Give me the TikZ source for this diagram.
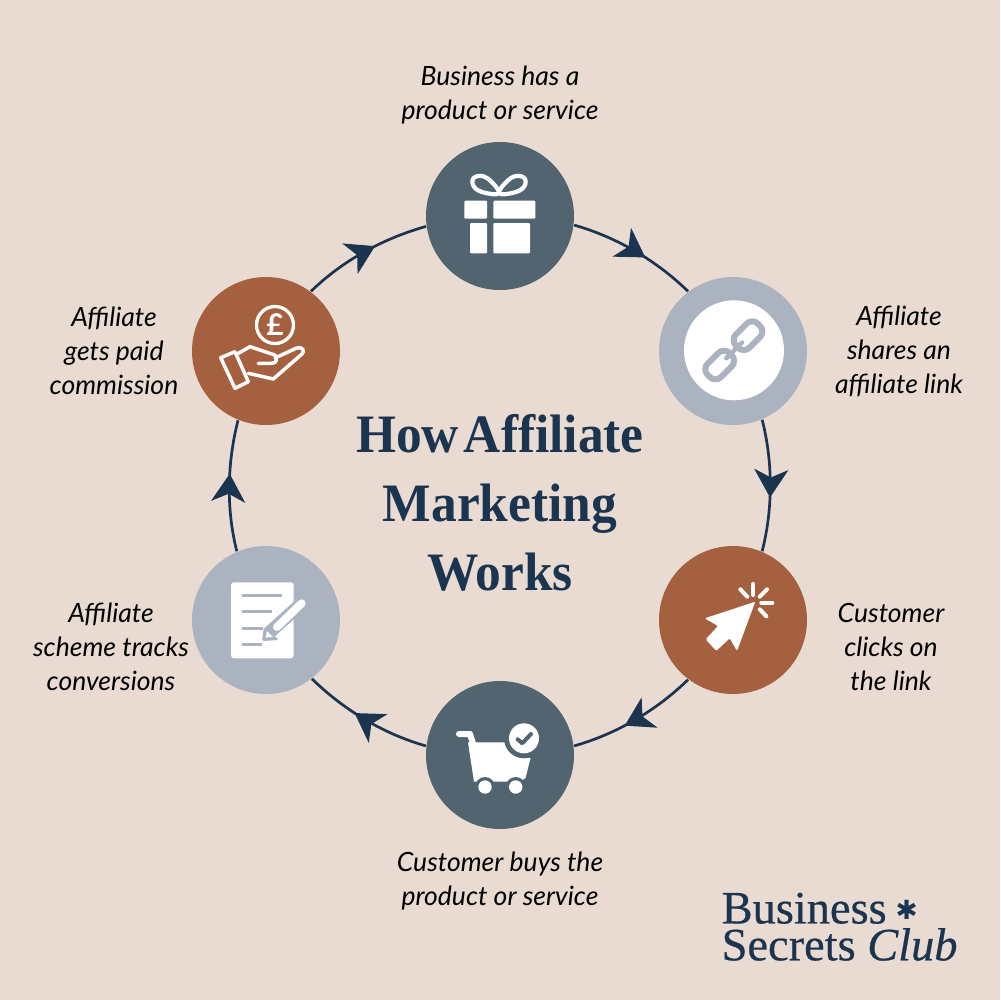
\documentclass[tikz,border=0pt]{standalone}
\usepackage{fontspec}
\setmainfont{Lato}
\newfontfamily\titlefont[FakeStretch=0.95]{Liberation Serif}
\newfontfamily\logofont[FakeBold=0.5]{Liberation Serif}
\newfontfamily\starfont{DejaVu Sans}
\usepackage{xcolor}
\usetikzlibrary{arrows.meta, decorations.markings}

\definecolor{pagebg}{HTML}{E9DBD2}
\definecolor{slate}{HTML}{51646F}
\definecolor{rust}{HTML}{A5603F}
\definecolor{steel}{HTML}{ABB3C0}
\definecolor{navy}{HTML}{1B3550}

\tikzset{
    stepdot/.style={circle, minimum size=1.48cm, inner sep=0pt},
    steptext/.style={align=center, text=black, font=\fontsize{7.55}{9.67}\selectfont\itshape},
    ringline/.style={navy, line width=0.027cm, postaction={decorate},
        decoration={markings, mark=at position 0.59 with {\arrow{Stealth[length=0.28cm, width=0.34cm, inset=0.08cm]}}}},
    titletext/.style={text=navy, align=center, font=\titlefont\bfseries\fontsize{15.4}{19.6}\selectfont},
    logotext/.style={text=navy, align=left, font=\logofont\fontsize{13.2}{10.5}\selectfont},
    iconline/.style={white, line width=0.035cm, line cap=round, line join=round},
}

\begin{document}
\begin{tikzpicture}[x=0.1mm, y=-0.1mm]
        \fill[pagebg] (0,0) rectangle (1000,1000);

        \node[stepdot, fill=slate] (gift) at (500,216) {};
        \node[stepdot, fill=steel] (chain) at (733,351) {};
        \node[stepdot, fill=rust] (cursor) at (733,620) {};
        \node[stepdot, fill=slate] (cart) at (500,755) {};
        \node[stepdot, fill=steel] (notes) at (266,620) {};
        \node[stepdot, fill=rust] (hand) at (266,351) {};

        \foreach \a/\b/\r in {gift/chain/90, chain/cursor/30, cursor/cart/-30, cart/notes/-90, notes/hand/-150, hand/gift/-210} {
            \pgfmathsetmacro{\sa}{\r-97.9}
            \pgfmathsetmacro{\ea}{\r+37.9}
            \pgfmathsetmacro{\oa}{\r-105.8}
            \pgfmathsetmacro{\ia}{\r+45.8}
            \draw[ringline] (\a.\sa) to[out=\oa, in=\ia, looseness=0.86] (\b.\ea);
        }

        % gift
        \fill[white, rounded corners=0.01cm] (464.3,200.7) rectangle (487,218.7);
        \fill[white, rounded corners=0.01cm] (493.3,200.7) rectangle (535.3,218.7);
        \fill[white, rounded corners=0.01cm] (470,223) rectangle (487,253.3);
        \fill[white, rounded corners=0.01cm] (493.3,223) rectangle (530,253.3);
        \draw[iconline, line width=0.042cm] plot[smooth cycle, tension=0.7] coordinates {(499,193) (487,178) (475,177) (473,185) (482,192)};
        \draw[iconline, line width=0.042cm] plot[smooth cycle, tension=0.7] coordinates {(499,193) (511,178) (523,177) (525,185) (516,192)};

        % chain
        \fill[white] (734,350.3) circle (50);
        \begin{scope}[shift={(748,335.7)}, rotate=45]
            \draw[steel, line width=0.06cm, rounded corners=0.08cm] (-15.5,-9.5) rectangle (15.5,9.5);
        \end{scope}
        \begin{scope}[shift={(719.7,365)}, rotate=45]
            \draw[steel, line width=0.06cm, rounded corners=0.08cm] (-15.5,-9.5) rectangle (15.5,9.5);
        \end{scope}
        \draw[steel, line width=0.045cm, line cap=round] (726.3,358.3) -- (742,342.5);

        % cursor
        \fill[white, rounded corners=0.012cm] (755.3,601.7) -- (704.7,618.3) -- (718,626) -- (705.7,639.3)
            -- (716.3,651) -- (729.7,638.3) -- (737,651) -- cycle;
        \foreach \ax/\ay/\bx/\by in {753.3/584/753.3/595, 740.3/589.3/747.3/596.7, 767/589.3/759.7/596.7, 761.3/602.7/772.3/602.7, 759.7/609.3/766.3/616.3}
            \draw[iconline, line width=0.04cm] (\ax,\ay) -- (\bx,\by);

        % cart
        \draw[iconline, line width=0.06cm] (459,734) -- (470,734) -- (474.5,748);
        \fill[white] (468,742.3) -- (505,742.3) -- (530.5,758.3) -- (525.5,778) -- (520,781.7) -- (474,781.7) -- cycle;
        \fill[slate] (524,738.3) circle (20);
        \foreach \wx in {485,515.7} {
            \fill[slate] (\wx,787) circle (10);
            \fill[white] (\wx,787) circle (6.7);
        }
        \fill[white] (524,738.3) circle (15);
        \draw[slate, line width=0.04cm, line cap=round, line join=round] (517.7,739.3) -- (522.3,743.3) -- (531,734);

        % notes
        \fill[white, rounded corners=0.03cm] (231,582.3) rectangle (293.7,658.3);
        \foreach \ly/\lx in {595.7/282.3, 611.7/272, 628.3/263, 644.7/262.3}
            \draw[steel, line width=0.033cm] (242,\ly) -- (\lx,\ly);
        \draw[steel, line width=0.13cm, line cap=round] (270,632) -- (301.7,603.3);
        \fill[steel, rounded corners=0.015cm] (262,641) -- (264,627) -- (279,640) -- cycle;
        \fill[white] (265.5,637.5) -- (267,631) -- (273,637) -- cycle;
        \draw[white, line width=0.08cm, line cap=round] (277,627) -- (301.7,603.3);

        % hand
        \draw[iconline, line width=0.033cm] (275,325) circle (18.5);
        \node[text=white, font=\fontsize{8.5}{8.5}\selectfont\bfseries, inner sep=0pt] (pound) at (275,325) {\textsterling};
        \draw[iconline] (220.7,357.7) -- (235,351.7) -- (248.3,381.7) -- (235,388.3) -- cycle;
        \draw[iconline] (238.3,353.3) -- (250,346.7) -- (275,355) .. controls (277,360) and (277,363.3) .. (271,363.3) -- (258.3,363.3);
        \draw[iconline] (275,358) -- (296,348.3) .. controls (303,346) and (305,351) .. (302,354) -- (273.3,379) -- (248.3,373.3);

        % labels
        \node[steptext] (giftlabel) at (500,95) {Business has a\\product or service};
        \node[steptext] (chainlabel) at (899,351) {Affiliate\\shares an\\affiliate link};
        \node[steptext] (cursorlabel) at (891,647) {Customer\\clicks on\\the link};
        \node[steptext] (cartlabel) at (500,881) {Customer buys the\\product or service};
        \node[steptext] (noteslabel) at (111,647) {Affiliate\\scheme tracks\\conversions};
        \node[steptext] (handlabel) at (114,351) {Affiliate\\gets paid\\commission};

        \node[titletext] (title) at (500,503) {How\hspace{-0.08cm} Affiliate\\Marketing\\Works};

        % logo
        \node[logotext, anchor=north west, inner sep=0pt] (logotext) at (721,892) {Business\hspace{0.09cm}\raisebox{0.04cm}{\starfont\fontsize{7.5}{7.5}\selectfont ✱}\\Secrets \textit{Club}};
\end{tikzpicture}
\end{document}
